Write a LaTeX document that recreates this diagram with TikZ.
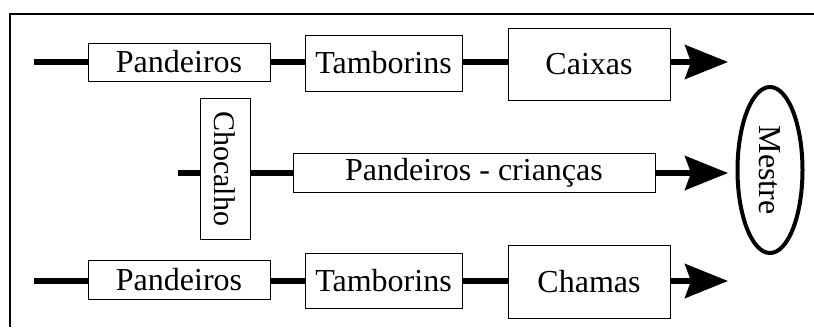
\documentclass[tikz,border=0pt]{standalone}
\usepackage{fontspec}
\setmainfont{Liberation Serif}
\usetikzlibrary{arrows.meta,shapes.geometric}
\begin{document}
\begin{tikzpicture}[x=1pt,y=-1pt,
  box/.style={draw=black,line width=0.9pt,inner sep=0pt,font=\fontsize{32}{36}\selectfont},
  conn/.style={line width=5.5pt},
  arr/.style={line width=5.5pt,-{Stealth[length=43pt,width=34pt,inset=6pt]}},
  frameline/.style={line width=2.5pt}]
\useasboundingbox (0,0) rectangle (814,327);
% frame
\draw[frameline] (10,327) -- (10,14) -- (814,14);
% row 1
\node[box,minimum width=182pt,minimum height=38pt] (pan1) at (179,62) {Pandeiros};
\node[box,minimum width=157pt,minimum height=56pt] (tam1) at (383.5,63) {Tamborins};
\node[box,minimum width=162pt,minimum height=72pt] (cai1) at (589,64) {Caixas};
% row 2
\node[box,minimum width=141pt,minimum height=50pt,rotate=-90,font=\fontsize{30}{34}\selectfont] (cho) at (225,168.5) {Chocalho};
\node[box,minimum width=362pt,minimum height=39pt] (pc) at (474,172.5) {Pandeiros - crianças};
% row 3
\node[box,minimum width=182pt,minimum height=39pt] (pan3) at (179,280) {Pandeiros};
\node[box,minimum width=157pt,minimum height=55pt] (tam3) at (383.5,281) {Tamborins};
\node[box,minimum width=162pt,minimum height=73pt] (cha3) at (589,281.5) {Chamas};
% Mestre
\node[ellipse,draw=black,line width=4pt,inner sep=0pt,minimum width=166pt,minimum height=65pt,rotate=-90,font=\fontsize{32}{36}\selectfont] (mestre) at (770,170) {Mestre};
% coordinates
\coordinate (s1) at (34,62);
\coordinate (s2) at (178,173);
\coordinate (s3) at (34,281);
\coordinate (e1) at (728,62);
\coordinate (e2) at (728,173);
\coordinate (e3) at (728,281);
% connectors
\draw[conn] (s1) -- (pan1.west |- s1);
\draw[conn] (pan1.east |- s1) -- (tam1.west |- s1);
\draw[conn] (tam1.east |- s1) -- (cai1.west |- s1);
\draw[arr] (cai1.east |- s1) -- (e1);
\draw[conn] (s2) -- (cho.south |- s2);
\draw[conn] (cho.north |- s2) -- (pc.west |- s2);
\draw[arr] (pc.east |- s2) -- (e2);
\draw[conn] (s3) -- (pan3.west |- s3);
\draw[conn] (pan3.east |- s3) -- (tam3.west |- s3);
\draw[conn] (tam3.east |- s3) -- (cha3.west |- s3);
\draw[arr] (cha3.east |- s3) -- (e3);
\end{tikzpicture}
\end{document}
